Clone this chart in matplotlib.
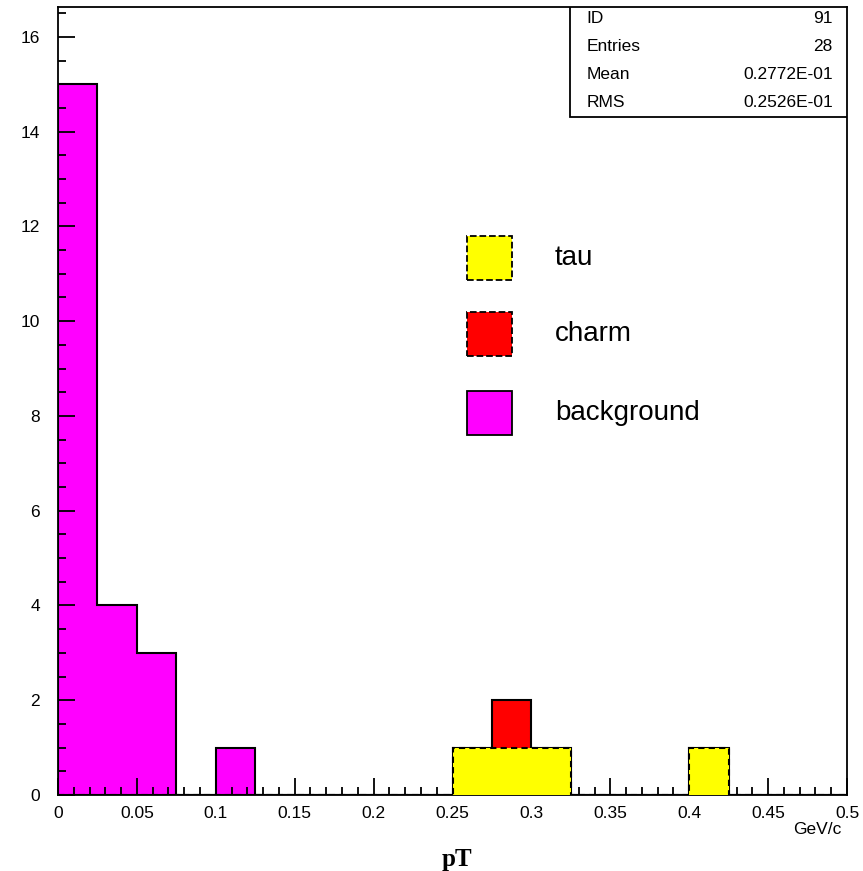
import numpy as np
import matplotlib
matplotlib.use('Agg')
import matplotlib.pyplot as plt
from matplotlib.patches import Rectangle
from matplotlib.ticker import MultipleLocator, FuncFormatter

# bins de 0.025 GeV/c entre 0 e 0.5
bordas = np.linspace(0.0, 0.5, 21)
background = [15, 4, 3, 0, 1, 0, 0, 0, 0, 0, 0, 0, 0, 0, 0, 0, 0, 0, 0, 0]
tau = [0, 0, 0, 0, 0, 0, 0, 0, 0, 0, 1, 1, 1, 0, 0, 0, 1, 0, 0, 0]
charm = [0, 0, 0, 0, 0, 0, 0, 0, 0, 0, 0, 1, 0, 0, 0, 0, 0, 0, 0, 0]

legenda_nomes = ['tau', 'charm', 'background']
legenda_cores = ['#ffff00', '#ff0000', '#ff00ff']
legenda_estilos = ['--', '--', '-']

stats_nomes = ['ID', 'Entries', 'Mean', 'RMS']
stats_valores = ['91', '28', '0.2772E-01', '0.2526E-01']

plt.rcParams['font.family'] = ['Liberation Sans', 'DejaVu Sans']

fig = plt.figure(figsize=(8.63, 8.71), dpi=100)
ax = fig.add_axes([58 / 863, 1 - 795 / 871, 789 / 863, 788 / 871])

tau_arr = np.array(tau, dtype=float)
charm_arr = np.array(charm, dtype=float)

# background
ax.stairs(background, bordas, fill=True, color='#ff00ff', zorder=2)
ax.stairs(background, bordas, color='black', lw=1.5, zorder=3)
# charm empilhado em cima do tau
ax.stairs(tau_arr + charm_arr, bordas, fill=True, color='#ff0000', zorder=2)
ax.stairs(tau_arr + charm_arr, bordas, color='black', lw=1.5, zorder=3)
# tau
ax.stairs(tau_arr, bordas, fill=True, color='#ffff00', zorder=4)
ax.stairs(tau_arr, bordas, color='black', lw=1.5, ls=(0, (3, 2)), zorder=5)

ax.set_xlim(0, 0.5)
ax.set_ylim(0, 16.63)
ax.xaxis.set_major_locator(MultipleLocator(0.05))
ax.xaxis.set_minor_locator(MultipleLocator(0.01))
ax.yaxis.set_major_locator(MultipleLocator(2))
ax.yaxis.set_minor_locator(MultipleLocator(0.5))
ax.xaxis.set_major_formatter(FuncFormatter(lambda v, p: '%g' % round(v, 3)))
ax.tick_params(which='major', direction='in', length=12, width=1.3,
               labelsize=12.5, pad=8, top=False, right=False)
ax.tick_params(which='minor', direction='in', length=6, width=1.3,
               top=False, right=False)
ax.tick_params(axis='y', which='major', pad=13)
for s in ax.spines.values():
    s.set_linewidth(1.3)
ax.set_axisbelow(False)

# legenda manual
ys = [0.681, 0.585, 0.485]
for y, nome, cor, est in zip(ys, legenda_nomes, legenda_cores, legenda_estilos):
    ax.add_patch(Rectangle((0.519, y - 0.028), 0.056, 0.056, transform=ax.transAxes,
                           facecolor=cor, edgecolor='black', lw=1.3, ls=est, zorder=6))
    ax.text(0.630, y, nome, transform=ax.transAxes, fontsize=20,
            va='center', ha='left', zorder=6)

# caixa de estatisticas
ax.add_patch(Rectangle((0.649, 0.8604), 0.351, 0.1396, transform=ax.transAxes,
                       facecolor='white', edgecolor='black', lw=1.3, zorder=7))
for i, (n, v) in enumerate(zip(stats_nomes, stats_valores)):
    y = 0.9848 - i * 0.0355
    ax.text(0.670, y, n, transform=ax.transAxes, fontsize=12.5,
            va='center', ha='left', zorder=8)
    ax.text(0.982, y, v, transform=ax.transAxes, fontsize=12.5,
            va='center', ha='right', zorder=8)

fig.text(841 / 863, 1 - 829 / 871, 'GeV/c', fontsize=12.5, ha='right', va='center')
fig.text(457 / 863, 1 - 859 / 871, 'pT', fontsize=18, fontweight='bold',
         family=['Liberation Serif', 'DejaVu Serif'], ha='center', va='center')

fig.savefig('out.png', dpi=100)
